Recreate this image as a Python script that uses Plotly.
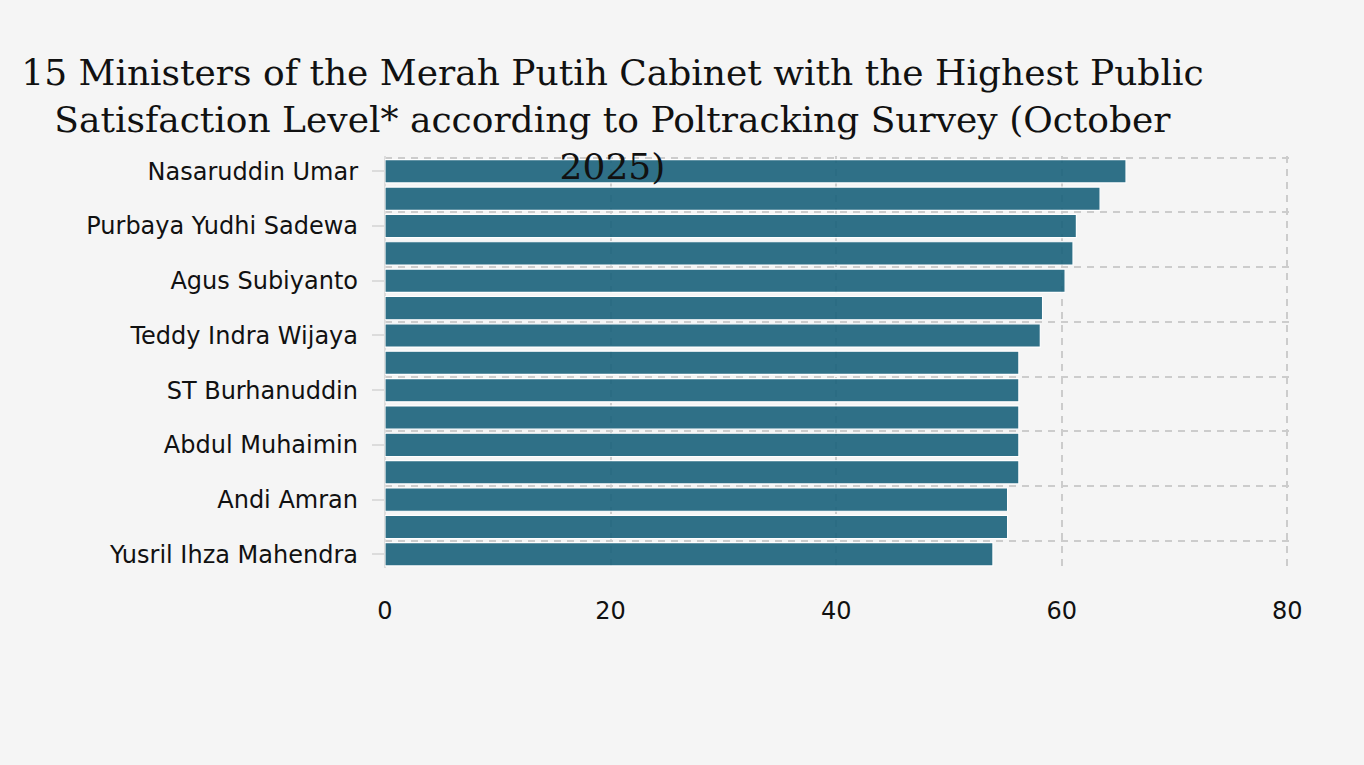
import plotly.graph_objects as go

ministers = [
    "Nasaruddin Umar",
    "Sjafrie Sjamsoeddin",
    "Purbaya Yudhi Sadewa",
    "Abdul Mu'ti",
    "Agus Subiyanto",
    "Listyo Sigit Prabowo",
    "Teddy Indra Wijaya",
    "Saifullah Yusuf",
    "ST Burhanuddin",
    "Budi Gunadi Sadikin",
    "Abdul Muhaimin",
    "Sugiono",
    "Andi Amran",
    "Bahlil Lahadalia",
    "Yusril Ihza Mahendra",
]
satisfaction = [65.7, 63.4, 61.3, 61.0, 60.3, 58.3, 58.1, 56.2, 56.2, 56.2, 56.2, 56.2, 55.2, 55.2, 53.9]
x_ticks = [0, 20, 40, 60, 80]

title_text = ("15 Ministers of the Merah Putih Cabinet with the Highest Public<br>"
              "Satisfaction Level* according to Poltracking Survey (October<br>2025)")

GRID = "#cccccc"
DASH = "7px,6px"
TICKFONT = dict(family="DejaVu Sans", size=24, color="#111111")

fig = go.Figure()
fig.add_trace(go.Bar(
    x=satisfaction,
    y=ministers,
    orientation="h",
    marker=dict(color="rgb(26,98,124)", line=dict(color="white", width=1.2)),
    opacity=0.9,
    hoverinfo="x+y",
))
# invisible companion trace so the overlay axis carries the centred tick marks
fig.add_trace(go.Scatter(
    x=satisfaction,
    y=ministers,
    yaxis="y2",
    mode="markers",
    marker=dict(opacity=0),
    hoverinfo="skip",
    showlegend=False,
))

fig.update_layout(
    width=1364,
    height=765,
    paper_bgcolor="#f5f5f5",
    plot_bgcolor="#f5f5f5",
    margin=dict(l=385, r=75, t=156, b=197),
    bargap=0.15,
    showlegend=False,
    title=dict(
        text=title_text,
        font=dict(family="DejaVu Serif", size=36, color="#111111"),
        x=0.449,
        xanchor="center",
        xref="container",
        y=0.889,
        yanchor="top",
        yref="container",
    ),
    font=TICKFONT,
    xaxis=dict(
        range=[0, 80.15],
        tickvals=x_ticks,
        showgrid=True,
        gridcolor=GRID,
        gridwidth=2,
        griddash=DASH,
        zeroline=True,
        zerolinecolor="#dcdcdc",
        zerolinewidth=2,
        showline=False,
        ticks="",
        ticklabelstandoff=26,
        tickfont=TICKFONT,
    ),
    yaxis=dict(
        type="category",
        categoryorder="array",
        categoryarray=ministers,
        range=[14.5, -0.56],
        tickmode="linear",
        tick0=0,
        dtick=2,
        tickson="boundaries",
        showgrid=True,
        gridcolor=GRID,
        gridwidth=2,
        griddash=DASH,
        ticks="",
        ticklabelstandoff=26,
        showline=False,
        tickfont=TICKFONT,
    ),
    yaxis2=dict(
        type="category",
        categoryorder="array",
        categoryarray=ministers,
        range=[14.5, -0.56],
        overlaying="y",
        side="left",
        tickmode="linear",
        tick0=0,
        dtick=2,
        showgrid=False,
        zeroline=False,
        showline=False,
        showticklabels=False,
        ticks="outside",
        ticklen=12,
        tickwidth=2,
        tickcolor="#dcdcdc",
    ),
)

fig.write_html(
    "out.html",
    config={"displayModeBar": False},
    post_script="document.body.style.margin='0';document.body.style.background='#f5f5f5';",
)
